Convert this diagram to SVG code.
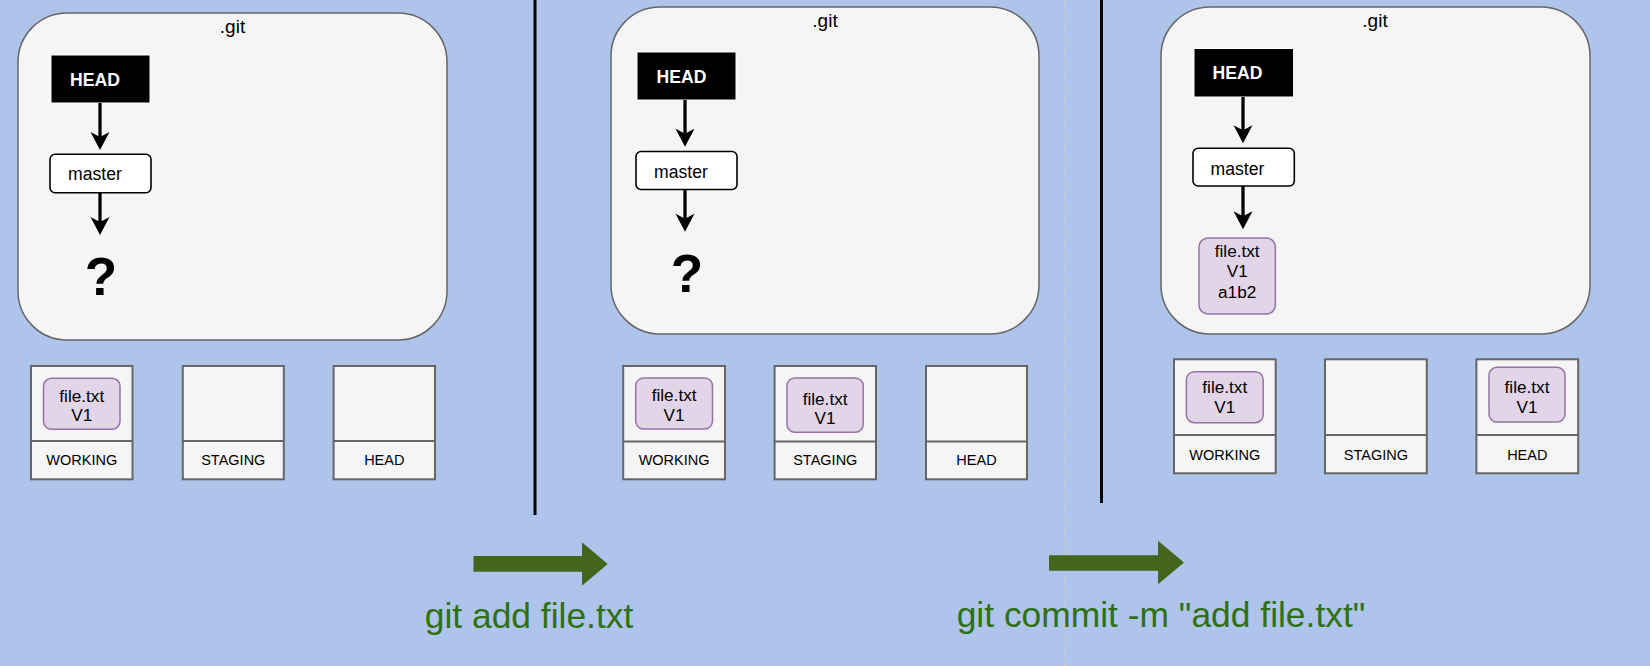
<svg xmlns="http://www.w3.org/2000/svg" width="1650" height="666" viewBox="0 0 1650 666">
<defs>
<style>
text{font-family:"Liberation Sans",Arial,Helvetica,sans-serif;fill:#000}
.git{fill:#f5f5f5;stroke:#666;stroke-width:1.5}
.gitlbl{font-size:19px;text-anchor:middle}
.headbox{fill:#000;stroke:#fff;stroke-width:1}
.headtxt{font-size:17.6px;font-weight:bold;fill:#fff;text-anchor:middle}
.master{fill:#fff;stroke:#000;stroke-width:1.6}
.mtxt{font-size:17.6px;text-anchor:middle}
.q{font-size:53px;font-weight:bold;text-anchor:middle}
.area{fill:#f5f5f5;stroke:#666;stroke-width:2}
.lbl{font-size:14.5px;text-anchor:middle}
.file{fill:#e1d5e7;stroke:#9673a6;stroke-width:1.5}
.ftxt{font-size:17.2px;text-anchor:middle}
.conn{stroke:#000;stroke-width:3.3;fill:none;marker-end:url(#ah)}
.div{stroke:#000;stroke-width:3}
.garrow{fill:#43651c}
.gtxt{font-size:35.4px;fill:#2f7013;text-anchor:middle}
</style>
<marker id="ah" markerUnits="userSpaceOnUse" markerWidth="19" markerHeight="20" refX="5" refY="9.5" orient="auto" viewBox="0 0 19 19">
<path d="M0,0 L18,9.5 L0,19 L5,9.5 Z" fill="#000"/>
</marker>
</defs>
<rect width="1650" height="666" fill="#aec4ea"/>

<g id="separators">
<line class="div" x1="535" y1="0" x2="535" y2="515"/>
<line class="div" x1="1101.5" y1="0" x2="1101.5" y2="503"/>
<line x1="1065" y1="0" x2="1065" y2="666" stroke="#c9c9c9" stroke-width="1.5" stroke-dasharray="6 6"/>
</g>

<!-- Panel 1 -->
<g id="p1-git"><rect class="git" x="18" y="13" width="429" height="327" rx="49"/><text class="gitlbl" x="232.5" y="32.5">.git</text></g>
<g id="p1-head"><rect class="headbox" x="51" y="55" width="99" height="48"/><text class="headtxt" x="95" y="86">HEAD</text></g>
<g id="p1-master"><rect class="master" x="50" y="154.3" width="101" height="38.4" rx="5"/><text class="mtxt" x="95" y="180">master</text></g>
<g id="p1-q"><text class="q" x="101" y="294.5">?</text></g>
<g id="p1-working"><rect class="area" x="31" y="366" width="101.5" height="113.3"/><line x1="31" y1="441" x2="132.5" y2="441" stroke="#666" stroke-width="2"/><text class="lbl" x="81.8" y="465">WORKING</text>
<rect class="file" x="43.5" y="378.3" width="76.5" height="51" rx="8"/><text class="ftxt" x="81.8" y="401.5">file.txt</text><text class="ftxt" x="81.8" y="421">V1</text></g>
<g id="p1-staging"><rect class="area" x="182.8" y="366" width="101" height="113.3"/><line x1="182.8" y1="441" x2="283.8" y2="441" stroke="#666" stroke-width="2"/><text class="lbl" x="233.3" y="465">STAGING</text></g>
<g id="p1-headarea"><rect class="area" x="333.6" y="366" width="101.4" height="113.3"/><line x1="333.6" y1="441" x2="435" y2="441" stroke="#666" stroke-width="2"/><text class="lbl" x="384.3" y="465">HEAD</text></g>

<!-- Panel 2 -->
<g id="p2-git"><rect class="git" x="611" y="7" width="428" height="327" rx="49"/><text class="gitlbl" x="825" y="27">.git</text></g>
<g id="p2-head"><rect class="headbox" x="637" y="52" width="99" height="48"/><text class="headtxt" x="681.5" y="82.5">HEAD</text></g>
<g id="p2-master"><rect class="master" x="636" y="151.5" width="101" height="38" rx="5"/><text class="mtxt" x="681" y="178.3">master</text></g>
<g id="p2-q"><text class="q" x="687" y="292.3">?</text></g>
<g id="p2-working"><rect class="area" x="623.2" y="366" width="101.8" height="113.3"/><line x1="623.2" y1="441.5" x2="725" y2="441.5" stroke="#666" stroke-width="2"/><text class="lbl" x="674.1" y="465">WORKING</text>
<rect class="file" x="635.7" y="378" width="76.8" height="51" rx="8"/><text class="ftxt" x="674.1" y="401">file.txt</text><text class="ftxt" x="674.1" y="420.7">V1</text></g>
<g id="p2-staging"><rect class="area" x="774.6" y="366" width="101.4" height="113.3"/><line x1="774.6" y1="441.5" x2="876" y2="441.5" stroke="#666" stroke-width="2"/><text class="lbl" x="825.3" y="465">STAGING</text>
<rect class="file" x="787" y="378" width="76.2" height="54.3" rx="8"/><text class="ftxt" x="825.1" y="405">file.txt</text><text class="ftxt" x="825.1" y="424.3">V1</text></g>
<g id="p2-headarea"><rect class="area" x="926" y="366" width="101" height="113.3"/><line x1="926" y1="441.5" x2="1027" y2="441.5" stroke="#666" stroke-width="2"/><text class="lbl" x="976.5" y="465">HEAD</text></g>

<!-- Panel 3 -->
<g id="p3-git"><rect class="git" x="1161" y="7" width="429" height="327" rx="49"/><text class="gitlbl" x="1375" y="27">.git</text></g>
<g id="p3-head"><rect class="headbox" x="1194" y="48.5" width="99.6" height="48.5"/><text class="headtxt" x="1237.5" y="79">HEAD</text></g>
<g id="p3-master"><rect class="master" x="1193" y="148.3" width="101.3" height="37.7" rx="5"/><text class="mtxt" x="1237.5" y="174.5">master</text></g>
<g id="p3-commit"><rect class="file" x="1199" y="238" width="76.4" height="76" rx="9"/><text class="ftxt" x="1237.2" y="257">file.txt</text><text class="ftxt" x="1237.2" y="277">V1</text><text class="ftxt" x="1237.2" y="297.5">a1b2</text></g>
<g id="p3-working"><rect class="area" x="1174" y="359.3" width="101.7" height="114"/><line x1="1174" y1="435" x2="1275.7" y2="435" stroke="#666" stroke-width="2"/><text class="lbl" x="1224.8" y="459.5">WORKING</text>
<rect class="file" x="1186.4" y="371.7" width="76.8" height="51" rx="8"/><text class="ftxt" x="1224.8" y="393.3">file.txt</text><text class="ftxt" x="1224.8" y="413.3">V1</text></g>
<g id="p3-staging"><rect class="area" x="1325" y="359.3" width="101.8" height="114"/><line x1="1325" y1="435" x2="1426.8" y2="435" stroke="#666" stroke-width="2"/><text class="lbl" x="1375.9" y="459.5">STAGING</text></g>
<g id="p3-headarea"><rect class="area" x="1476.4" y="359.3" width="101.8" height="114"/><line x1="1476.4" y1="435" x2="1578.2" y2="435" stroke="#666" stroke-width="2"/><text class="lbl" x="1527.3" y="459.5">HEAD</text>
<rect class="file" x="1489" y="367.3" width="76" height="54.7" rx="8"/><text class="ftxt" x="1527" y="393.3">file.txt</text><text class="ftxt" x="1527" y="413.3">V1</text></g>

<!-- Commands -->
<g id="cmd-add"><polygon class="garrow" points="473.5,556 582,556 582,542.3 607.7,564 582,585.7 582,571.7 473.5,571.7"/><text class="gtxt" x="529" y="627.5">git add file.txt</text></g>
<g id="cmd-commit"><polygon class="garrow" points="1049,555.3 1158,555.3 1158,540.7 1184,562.5 1158,584.3 1158,570.7 1049,570.7"/><text class="gtxt" x="1161" y="627.3">git commit -m "add file.txt"</text></g>

<g id="connectors">
<line class="conn" x1="100" y1="103" x2="100" y2="137"/>
<line class="conn" x1="100" y1="192.7" x2="100" y2="222"/>
<line class="conn" x1="685" y1="100" x2="685" y2="133.7"/>
<line class="conn" x1="685" y1="189.5" x2="685" y2="218.7"/>
<line class="conn" x1="1243" y1="97" x2="1243" y2="130.3"/>
<line class="conn" x1="1243" y1="186" x2="1243" y2="216.3"/>
</g>
</svg>
